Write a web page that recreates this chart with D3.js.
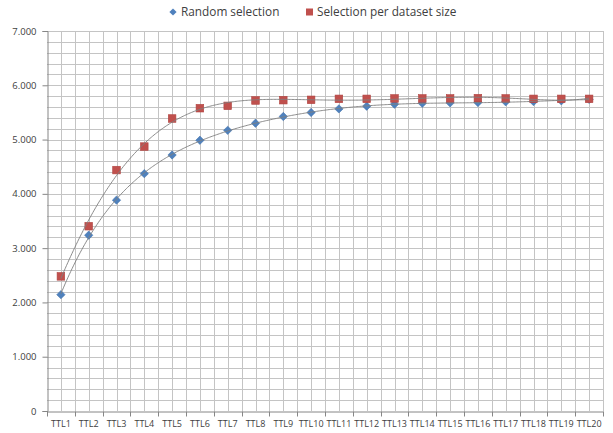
<!DOCTYPE html>
<html>
<head>
<meta charset="utf-8">
<script src="https://cdn.jsdelivr.net/npm/d3@7"></script>
<style>
  html, body { margin: 0; padding: 0; background: #ffffff; }
  svg { display: block; }
  text { font-family: "Open Sans", "Liberation Sans", sans-serif; fill: #404040; }
</style>
</head>
<body>
<svg id="chart" width="613" height="433"></svg>
<script>
// Categories (TTL levels)
const categories = ["TTL1","TTL2","TTL3","TTL4","TTL5","TTL6","TTL7","TTL8","TTL9","TTL10",
  "TTL11","TTL12","TTL13","TTL14","TTL15","TTL16","TTL17","TTL18","TTL19","TTL20"];

// Series values
const randomSelection = [2143, 3238, 3884, 4372, 4716, 4987, 5170, 5301, 5425, 5499,
  5565, 5615, 5652, 5668, 5676, 5683, 5695, 5700, 5713, 5740];
const perDatasetSize = [2480, 3404, 4438, 4871, 5388, 5578, 5621, 5720, 5726, 5732,
  5750, 5750, 5757, 5757, 5757, 5763, 5757, 5750, 5750, 5750];

// Y axis ticks
const yTicks = [0, 1000, 2000, 3000, 4000, 5000, 6000, 7000];

const seriesNames = ["Random selection", "Selection per dataset size"];
const seriesColors = ["#4f81bd", "#c0504d"];

const svg = d3.select("#chart");
const margin = { left: 47, right: 10, top: 31, bottom: 22 };
const W = 613, H = 433;

const x = d3.scaleBand().domain(categories).range([margin.left, W - margin.right]).padding(0);
const y = d3.scaleLinear().domain([0, 7000]).range([H - margin.bottom, margin.top]);
const xc = c => x(c) + x.bandwidth() / 2;
// continuous position for category index (1-based) used by trendlines
const xi = d3.scaleLinear().domain([1, categories.length]).range([xc(categories[0]), xc(categories[categories.length - 1])]);

const fmt = d3.formatLocale({ decimal: ",", thousands: ".", grouping: [3], currency: ["", ""] }).format(",");

// Grid: horizontal minor lines every 200
const g = svg.append("g");
const hLines = d3.range(200, 7001, 200);
g.selectAll("line.h").data(hLines).join("line")
  .attr("x1", margin.left).attr("x2", W - margin.right)
  .attr("y1", d => Math.round(y(d)) + 0.5).attr("y2", d => Math.round(y(d)) + 0.5)
  .attr("stroke", "#c4c4c4").attr("stroke-width", 1);

// Grid: vertical lines at category boundaries and centers
const vPos = [];
categories.forEach(c => { vPos.push(xc(c)); vPos.push(x(c) + x.bandwidth()); });
g.selectAll("line.v").data(vPos).join("line")
  .attr("x1", d => Math.round(d) + 0.5).attr("x2", d => Math.round(d) + 0.5)
  .attr("y1", margin.top).attr("y2", H - margin.bottom)
  .attr("stroke", "#c4c4c4").attr("stroke-width", 1);

// Axes
const yAxis = d3.axisLeft(y).tickValues(yTicks).tickFormat(fmt).tickSize(5).tickPadding(6);
const yG = svg.append("g").attr("transform", `translate(${margin.left + 0.5},0)`).call(yAxis);
yG.select(".domain").attr("stroke", "#868686");
yG.selectAll(".tick line").attr("stroke", "#868686");
yG.selectAll("text").style("font-size", "9.5px").attr("fill", "#404040");

const xAxis = d3.axisBottom(x).tickSize(0).tickPadding(9);
const xG = svg.append("g").attr("transform", `translate(0,${Math.round(y(0)) + 0.5})`).call(xAxis);
xG.select(".domain").attr("stroke", "#868686");
xG.selectAll("text").style("font-size", "9px").attr("fill", "#404040");
// category boundary tick marks
xG.selectAll("line.bt").data(categories.map(c => x(c)).concat([W - margin.right])).join("line")
  .attr("x1", d => Math.round(d) + 0.5).attr("x2", d => Math.round(d) + 0.5)
  .attr("y1", 0).attr("y2", 5).attr("stroke", "#868686");

// Markers
const plot = svg.append("g");
const diamondPath = r => `M0,${-r}L${r},0L0,${r}L${-r},0Z`;
plot.selectAll("path.rnd").data(randomSelection).join("path")
  .attr("transform", (d, i) => `translate(${xc(categories[i])},${y(d)})`)
  .attr("d", diamondPath(4.2)).attr("fill", seriesColors[0]).attr("stroke", "#3d6ea8").attr("stroke-width", 0.5);
plot.selectAll("rect.sz").data(perDatasetSize).join("rect")
  .attr("x", (d, i) => xc(categories[i]) - 3.8).attr("y", d => y(d) - 3.8)
  .attr("width", 7.6).attr("height", 7.6)
  .attr("fill", seriesColors[1]).attr("stroke", "#b04340").attr("stroke-width", 0.6);

// Polynomial (order 6) least-squares trendline fitted from a series
function polyFit(values, order) {
  const n = values.length;
  const m = order + 1;
  const A = Array.from({ length: m }, () => new Array(m + 1).fill(0));
  const tOf = i => (2 * i) / (n - 1) - 1;
  for (let k = 0; k < n; k++) {
    const pw = [1];
    for (let j = 1; j < m; j++) pw.push(pw[j - 1] * tOf(k));
    for (let r = 0; r < m; r++) {
      for (let c = 0; c < m; c++) A[r][c] += pw[r] * pw[c];
      A[r][m] += pw[r] * values[k];
    }
  }
  for (let col = 0; col < m; col++) {
    let piv = col;
    for (let r = col + 1; r < m; r++) if (Math.abs(A[r][col]) > Math.abs(A[piv][col])) piv = r;
    [A[col], A[piv]] = [A[piv], A[col]];
    for (let r = 0; r < m; r++) {
      if (r === col) continue;
      const f = A[r][col] / A[col][col];
      for (let c = col; c <= m; c++) A[r][c] -= f * A[col][c];
    }
  }
  const coef = A.map((row, i) => row[m] / row[i]);
  return idx => { // idx is 1-based category position
    const tt = tOf(idx - 1);
    let s = 0, p = 1;
    for (let j = 0; j < m; j++) { s += coef[j] * p; p *= tt; }
    return s;
  };
}

const trendLine = d3.line().x(d => xi(d[0])).y(d => y(d[1]));
[randomSelection, perDatasetSize].forEach(vals => {
  const f = polyFit(vals, 6);
  const pts = d3.range(1, categories.length + 0.0001, 0.05).map(i => [i, f(i)]);
  plot.append("path").datum(pts).attr("d", trendLine)
    .attr("fill", "none").attr("stroke", "#7f7f7f").attr("stroke-width", 0.9);
});

// Legend
const legend = svg.append("g");
legend.append("path").attr("transform", "translate(173,12)")
  .attr("d", diamondPath(3.6)).attr("fill", seriesColors[0]);
legend.append("text").attr("x", 181).attr("y", 16).style("font-size", "11.8px").text(seriesNames[0]);
legend.append("rect").attr("x", 306).attr("y", 8.5).attr("width", 7).attr("height", 7).attr("fill", seriesColors[1]);
legend.append("text").attr("x", 317).attr("y", 16).style("font-size", "11.8px").text(seriesNames[1]);
</script>
</body>
</html>
